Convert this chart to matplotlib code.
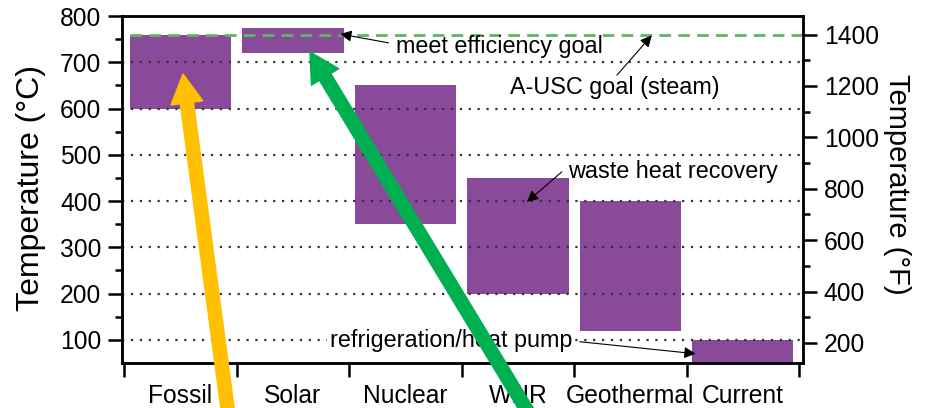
import numpy as np
import matplotlib
matplotlib.use("Agg")
import matplotlib.pyplot as plt
from matplotlib.ticker import MultipleLocator, FixedLocator

plt.rcParams['font.family'] = ['Liberation Sans', 'DejaVu Sans']

# temperature ranges per heat source (deg C)
sources = ['Fossil', 'Solar', 'Nuclear', 'WHR', 'Geothermal', 'Current']
t_low = [600, 720, 350, 200, 120, 50]
t_high = [760, 775, 650, 450, 400, 100]
goal_f = 1400  # A-USC steam goal, deg F

bar_color = '#8a4a9a'

def c_to_f(c):
    return np.asarray(c) * 1.8 + 32

fig = plt.figure(figsize=(9.26, 4.08), dpi=100)
ax = fig.add_axes([122/926, 1-363/408, 681/926, 347/408])

x = np.arange(len(sources)) + 0.5
ax.bar(x, np.array(t_high) - np.array(t_low), bottom=t_low, width=0.9,
       color=bar_color, zorder=1)

ax.set_xlim(-0.02, 6.035)
ax.set_ylim(50, 800)

# dotted grid over the bars
ax.set_axisbelow(False)
ax.yaxis.grid(True, linestyle=(0, (1, 3)), linewidth=1.6, color='#333333')

goal_c = (goal_f - 32) / 1.8
ax.hlines(goal_c, 0.05, 6.035, colors='#5cb85c', linestyles=(0, (4.2, 2.6)),
          linewidth=2, zorder=3)

for sp in ax.spines.values():
    sp.set_linewidth(1.8)

ax.yaxis.set_major_locator(MultipleLocator(100))
ax.yaxis.set_minor_locator(FixedLocator(np.arange(150, 800, 100)))
ax.tick_params(axis='y', which='major', length=10, width=1.8, pad=5, labelsize=17.7)
ax.tick_params(axis='y', which='minor', length=5, width=1.8)

ax.set_xticks(x)
ax.set_xticklabels(sources)
ax.xaxis.set_minor_locator(FixedLocator(np.arange(0, 7)))
ax.tick_params(axis='x', which='major', length=0, pad=15, labelsize=17.7)
ax.tick_params(axis='x', which='minor', length=10, width=1.8)

ax2 = ax.twinx()
ax2.set_ylim(c_to_f(50), c_to_f(800))
ax2.yaxis.set_major_locator(MultipleLocator(200))
ax2.yaxis.set_minor_locator(FixedLocator(np.arange(300, 1500, 200)))
ax2.tick_params(axis='y', which='major', length=10, width=1.8, pad=5, labelsize=17.7)
ax2.tick_params(axis='y', which='minor', length=5, width=1.8)
for sp in ax2.spines.values():
    sp.set_linewidth(1.8)

fig.text(31.5/926, 1-188/408, 'Temperature (°C)', rotation=90, ha='center',
         va='center', fontsize=23)
fig.text(897/926, 1-184/408, 'Temperature (°F)', rotation=270, ha='center',
         va='center', fontsize=21)

# annotations
fs = 16.8
aprops = dict(arrowstyle='-|>', color='k', lw=0.8, mutation_scale=17,
              shrinkA=0, shrinkB=0)
ax.text(2.42, 733, 'meet efficiency goal', ha='left', va='center', fontsize=fs, zorder=4)
ax.annotate('', xy=(1.92, 761), xytext=(2.35, 742), arrowprops=aprops, zorder=4)

ax.text(4.365, 645, 'A-USC goal (steam)', ha='center', va='center', fontsize=fs, zorder=4)
ax.annotate('', xy=(4.69, 758), xytext=(4.38, 672), arrowprops=aprops, zorder=4)

ax.text(4.88, 463, 'waste heat recovery', ha='center', va='center', fontsize=fs, zorder=4)
ax.annotate('', xy=(3.58, 398), xytext=(3.89, 463), arrowprops=aprops, zorder=4)

ax.text(2.907, 98, 'refrigeration/heat pump', ha='center', va='center', fontsize=fs,
        zorder=4, bbox=dict(facecolor='white', edgecolor='none', pad=2))
ax.annotate('', xy=(5.08, 70), xytext=(4.05, 96), arrowprops=aprops, zorder=4)

# big highlight arrows drawn over the chart
ax2.annotate('', xy=(183, 408-74), xytext=(228, -4), xycoords='figure pixels',
             textcoords='figure pixels', annotation_clip=False,
             arrowprops=dict(width=9.5, headwidth=23, headlength=21,
                             color='#ffc000', shrink=0), zorder=10)
ax2.annotate('', xy=(310, 408-52), xytext=(528, -4), xycoords='figure pixels',
             textcoords='figure pixels', annotation_clip=False,
             arrowprops=dict(width=9.5, headwidth=23, headlength=21,
                             color='#00b050', shrink=0), zorder=10)

plt.savefig('out.png', dpi=100)
